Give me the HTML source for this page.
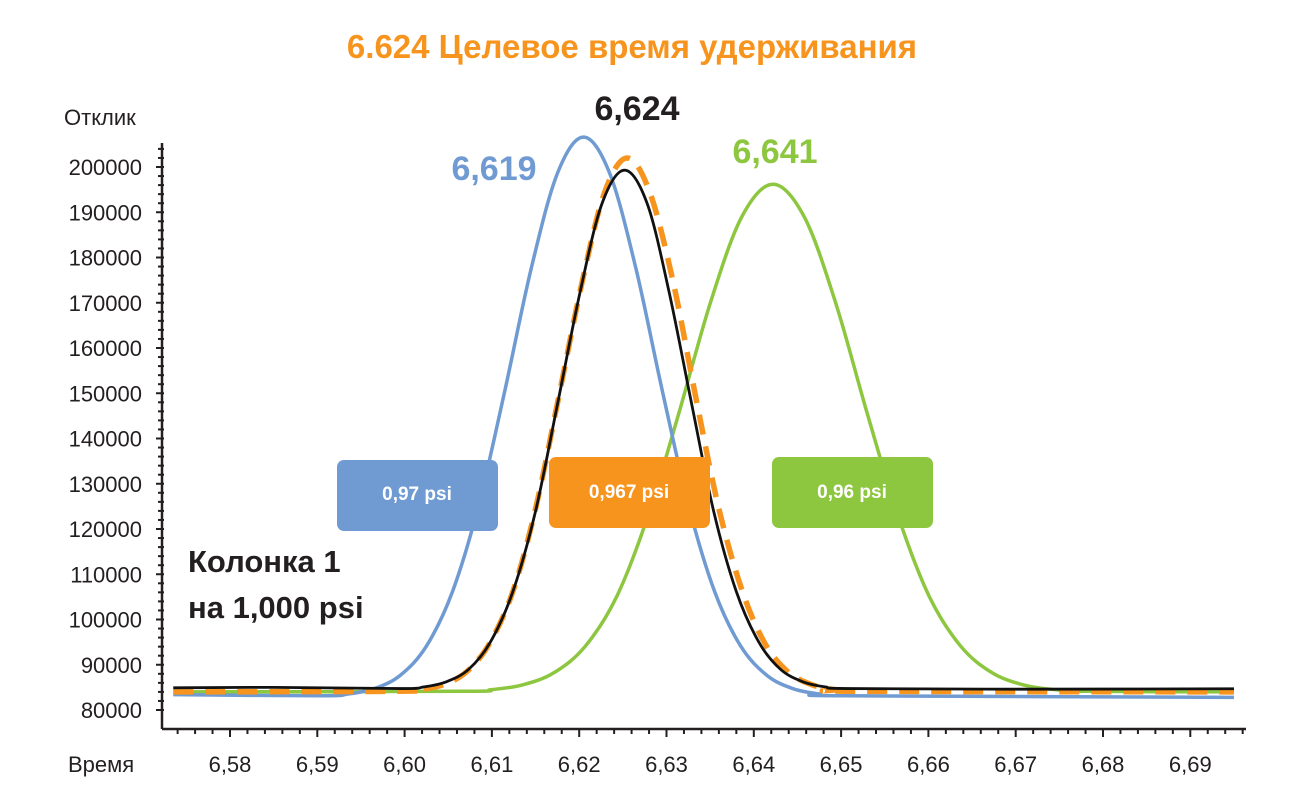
<!DOCTYPE html>
<html><head><meta charset="utf-8"><style>
body{margin:0;background:#fff;}
svg text{font-family:"Liberation Sans Narrow","Liberation Sans",sans-serif;}
</style></head><body>
<svg id="chart" width="1303" height="796" viewBox="0 0 1303 796" xmlns="http://www.w3.org/2000/svg">
<text x="632" y="58" text-anchor="middle" font-size="33" font-weight="bold" fill="#F7941D">6.624 Целевое время удерживания</text>
<text x="64" y="125" font-size="22" fill="#231f20">Отклик</text>
<text x="68" y="772" font-size="22" fill="#231f20">Время</text>
<g id="axes"></g>
<g id="series"></g>
<text x="494" y="180" text-anchor="middle" font-size="34" font-weight="bold" fill="#6F9BD2">6,619</text>
<text x="637" y="120" text-anchor="middle" font-size="34" font-weight="bold" fill="#231f20">6,624</text>
<text x="775" y="163" text-anchor="middle" font-size="34" font-weight="bold" fill="#8DC63F">6,641</text>
<g><rect x="337" y="460" width="161" height="71" rx="7" fill="#6F9BD2"/><text x="417" y="500" text-anchor="middle" font-size="19" font-weight="bold" fill="#fff">0,97 psi</text></g>
<g><rect x="549" y="457" width="161" height="71" rx="7" fill="#F7941D"/><text x="629" y="498" text-anchor="middle" font-size="19" font-weight="bold" fill="#fff">0,967 psi</text></g>
<g><rect x="772" y="457" width="161" height="71" rx="7" fill="#8DC63F"/><text x="852" y="498" text-anchor="middle" font-size="19" font-weight="bold" fill="#fff">0,96 psi</text></g>
<text x="188" y="572" font-size="31" font-weight="bold" fill="#231f20">Колонка 1</text>
<text x="188" y="618" font-size="31" font-weight="bold" fill="#231f20">на 1,000 psi</text>
</svg>
<script>
const xTicks=[6.58,6.59,6.60,6.61,6.62,6.63,6.64,6.65,6.66,6.67,6.68,6.69];
const xTickLabels=["6,58","6,59","6,60","6,61","6,62","6,63","6,64","6,65","6,66","6,67","6,68","6,69"];
const yTicks=[80000,90000,100000,110000,120000,130000,140000,150000,160000,170000,180000,190000,200000];
const blueX=[6.5735,6.5905,6.5935,6.5965,6.5995,6.6025,6.6055,6.6085,6.6115,6.6145,6.6175,6.6205,6.6235,6.6265,6.6295,6.6325,6.6355,6.6385,6.6415,6.6445,6.6475,6.6505,6.695];
const blueY=[83400,83150,83540,84710,87660,94120,106240,125390,150730,177550,198570,206600,198570,177550,150730,125390,106240,94120,87660,84710,83540,83150,82800];
const blackX=[6.5735,6.5850,6.5996,6.6022,6.6047,6.6073,6.6098,6.6124,6.6150,6.6175,6.6201,6.6226,6.6252,6.6278,6.6303,6.6329,6.6354,6.6380,6.6406,6.6431,6.6457,6.6482,6.6508,6.6700,6.695];
const blackY=[84900,85000,84740,85100,86180,88920,94920,106160,123940,147460,172350,191850,199300,191850,172350,147460,123940,106160,94920,88920,86180,85100,84740,84600,84700];
const orangeX=[6.5735,6.5992,6.6018,6.6045,6.6071,6.6097,6.6124,6.6150,6.6176,6.6203,6.6229,6.6255,6.6281,6.6308,6.6334,6.6360,6.6387,6.6413,6.6439,6.6466,6.6492,6.6518,6.695];
const orangeY=[84000,84140,84520,85630,88450,94620,106180,124470,148660,174270,194330,202000,194330,174270,148660,124470,106180,94620,88450,85630,84520,84140,84000];
const greenX=[6.5735,6.6063,6.6099,6.6135,6.6171,6.6207,6.6243,6.6278,6.6314,6.6350,6.6386,6.6422,6.6458,6.6494,6.6530,6.6566,6.6601,6.6637,6.6673,6.6709,6.6745,6.6781,6.695];
const greenY=[84000,84130,84490,85550,88230,94100,105090,122480,145490,169830,188910,196200,188910,169830,145490,122480,105090,94100,88230,85550,84490,84130,84000];
const NS="http://www.w3.org/2000/svg";
const xs=v=>230+(v-6.58)*8730;
const ys=v=>710-(v-80000)*0.004525;
function mk(tag,attrs,parent){const e=document.createElementNS(NS,tag);for(const k in attrs)e.setAttribute(k,attrs[k]);parent.appendChild(e);return e;}
const axes=document.getElementById('axes');
const ax=mk('line',{x1:162,y1:729,x2:1246,y2:729,stroke:'#231f20','stroke-width':2.5},axes);


const ay=mk('line',{x1:162,y1:143,x2:162,y2:729,stroke:'#231f20','stroke-width':2.5},axes);


for(let i=0;;i++){const v=6.574+i*0.002;const x=xs(v);if(x>1246)break;
 const major=Math.abs(Math.round(v*100)-v*100)<1e-6;
 mk('line',{x1:x,y1:729,x2:x,y2:major?737:734,stroke:'#231f20','stroke-width':2},axes);}
xTicks.forEach((v,i)=>{const t=mk('text',{x:xs(v),y:772,'text-anchor':'middle','font-size':22,fill:'#231f20'},axes);t.textContent=xTickLabels[i];
 
 });
for(let v=80000;v<=212000;v+=2000){const y=ys(v);if(y<143)break;mk('line',{x1:v%10000===0?156:158,y1:y,x2:164,y2:y,stroke:'#231f20','stroke-width':2},axes);}
yTicks.forEach(v=>{const t=mk('text',{x:142,y:ys(v)+8,'text-anchor':'end','font-size':22,fill:'#231f20'},axes);t.textContent=String(v);
 
 });
const sg=document.getElementById('series');
function line(X,Y,color,w,dash,name){
 let d='';const pts=X.map((v,i)=>[xs(v),ys(Y[i])]);
 d='M'+pts[0][0]+','+pts[0][1];
 for(let i=0;i<pts.length-1;i++){const p0=pts[i-1]||pts[i],p1=pts[i],p2=pts[i+1],p3=pts[i+2]||p2;
  const c1x=p1[0]+(p2[0]-p0[0])/6,c1y=p1[1]+(p2[1]-p0[1])/6,c2x=p2[0]-(p3[0]-p1[0])/6,c2y=p2[1]-(p3[1]-p1[1])/6;
  d+=` C${c1x},${c1y} ${c2x},${c2y} ${p2[0]},${p2[1]}`;}
 const p=mk('path',{d:d,fill:'none',stroke:color,'stroke-width':w},sg);
 if(dash)p.setAttribute('stroke-dasharray',dash);
 
 }
line(greenX,greenY,'#8DC63F',3.5,null,'series-green-6641');
line(blueX,blueY,'#6F9BD2',3.5,null,'series-blue-6619');
line(orangeX,orangeY,'#F7941D',5.5,'20,12','series-orange-6624');
line(blackX,blackY,'#111',2.8,null,'series-black-6624');
</script>
</body></html>
